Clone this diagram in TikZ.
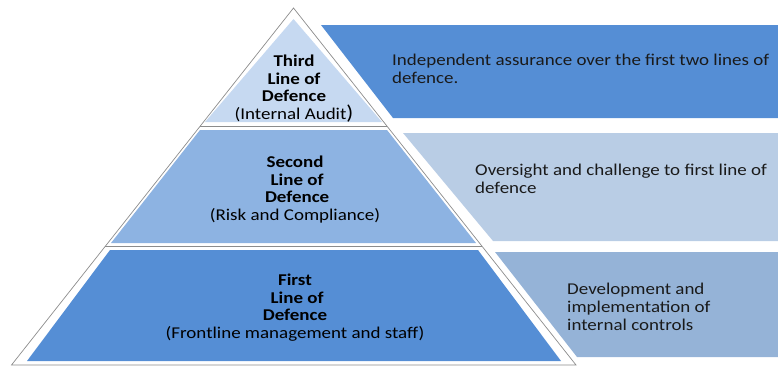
\documentclass[tikz,border=0pt]{standalone}
\usepackage{fontspec}
\setmainfont{Carlito}[FakeStretch=1.15]
\definecolor{darkfill}{HTML}{558ED5}
\definecolor{midfill}{HTML}{8DB3E2}
\definecolor{lightfill}{HTML}{C6D9F1}
\definecolor{boxtwo}{HTML}{B9CDE5}
\definecolor{boxthree}{HTML}{95B3D7}
\definecolor{edgegray}{HTML}{8C8C8C}
\definecolor{inktext}{HTML}{1A1A1A}
\begin{document}
\begin{tikzpicture}[x=1pt,y=-1pt,
  outline/.style={draw=edgegray, line width=0.7pt, line join=miter},
  pyrtext/.style={align=center, font=\fontsize{16.5}{17.5}\selectfont, inner sep=0pt, text=black},
  boxtext/.style={align=left, anchor=west, font=\fontsize{16.5}{17.8}\selectfont, inner sep=0pt, text=inktext}]
\useasboundingbox (0,0) rectangle (778,367);
% right-hand boxes
\fill[darkfill] (321,25) -- (778,25) -- (778,118) -- (393,118) -- cycle;
\fill[boxtwo] (403,133) -- (778,133) -- (778,241) -- (493,241) -- cycle;
\fill[boxthree] (495,252) -- (778,252) -- (778,357) -- (577,357) -- cycle;
% pyramid fills
\fill[lightfill] (293.5,19) -- (382,122) -- (205,122) -- cycle;
\fill[midfill] (200,130) -- (387,130) -- (476,243) -- (111,243) -- cycle;
\fill[darkfill] (110,250) -- (478,250) -- (561,361) -- (27,361) -- cycle;
% pyramid outline
\draw[outline] (11.5,365) -- (293.5,8) -- (576,365) -- cycle;
\draw[outline] (200.2,126) -- (386.8,126);
\draw[outline] (104.9,246.5) -- (482.1,246.5);
% pyramid texts
\node[pyrtext] (third) at (294,88.5) {\textbf{Third}\\\textbf{Line of}\\\textbf{Defence}\\(Internal Audit{\fontsize{20}{17}\selectfont)}};
\node[pyrtext] (second) at (295,189.5) {\textbf{Second}\\\textbf{\ Line of}\\\textbf{\ Defence}\\(Risk and Compliance)};
\node[pyrtext] (first) at (295,307.5) {\textbf{First}\\\textbf{\ Line of}\\\textbf{Defence}\\(Frontline management and staff)};
% box texts
\node[boxtext] (desc3) at (392,69) {Independent assurance over the first two lines of\\defence.};
\node[boxtext] (desc2) at (475,179) {Oversight and challenge to first line of\\defence};
\node[boxtext] (desc1) at (567,307) {Development and\\implementation of\\internal controls};
\end{tikzpicture}
\end{document}
